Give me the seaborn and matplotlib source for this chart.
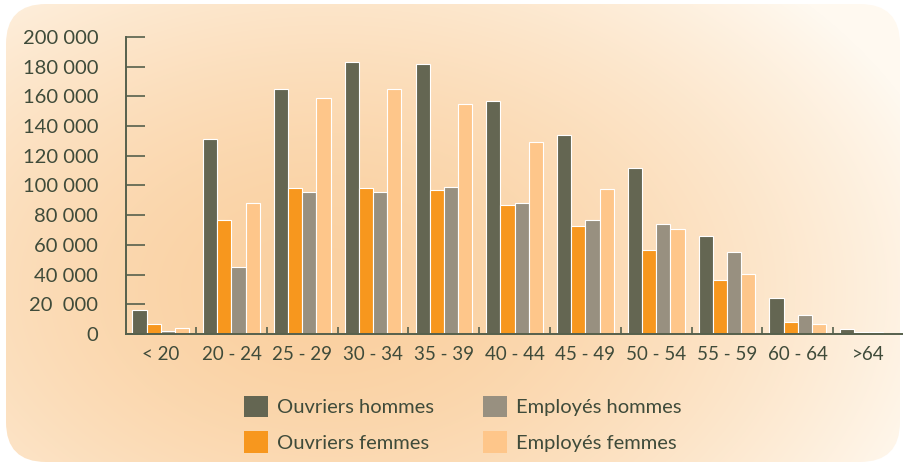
import numpy as np
import pandas as pd
import seaborn as sns
import matplotlib.pyplot as plt
from matplotlib.patches import Patch, FancyBboxPatch
from matplotlib.colors import to_rgb

# Tranches d'âge et effectifs
ages = ["< 20", "20 - 24", "25 - 29", "30 - 34", "35 - 39", "40 - 44",
        "45 - 49", "50 - 54", "55 - 59", "60 - 64", ">64"]
groupes = ["Ouvriers hommes", "Ouvriers femmes", "Employés hommes", "Employés femmes"]
ouvriers_hommes = [16000, 131000, 165000, 183000, 181500, 157000, 134000, 111500, 66000, 24000, 3500]
ouvriers_femmes = [7000, 77000, 98000, 98000, 97000, 87000, 73000, 56500, 36500, 8000, 1500]
employes_hommes = [2000, 45000, 95500, 95500, 99000, 88000, 77000, 74000, 55000, 12800, 1500]
employes_femmes = [4000, 88000, 159000, 165000, 155000, 129000, 97500, 70500, 40500, 6700, 500]
yticks = [0, 20000, 40000, 60000, 80000, 100000, 120000, 140000, 160000, 180000, 200000]
ytick_labels = ["0", "20  000", "40 000", "60 000", "80 000", "100 000",
                "120 000", "140 000", "160 000", "180 000", "200 000"]

couleurs = ["#646652", "#F7971E", "#989080", "#FEC68A"]
texte = "#3F4B3A"

df = pd.DataFrame({
    "age": ages * 4,
    "groupe": [g for g in groupes for _ in ages],
    "n": ouvriers_hommes + ouvriers_femmes + employes_hommes + employes_femmes,
})

fig = plt.figure(figsize=(9.04, 4.66), dpi=100)
fig.patch.set_facecolor("white")

# fond dégradé arrondi
bg = fig.add_axes([0, 0, 1, 1], zorder=-10)
bg.set_axis_off()
W, H = 904, 466
xx, yy = np.meshgrid(np.arange(W), np.arange(H))
d = np.sqrt(((xx - 330) / 640.0) ** 2 + ((yy - 290) / 430.0) ** 2)
d = np.clip(d, 0, 1) ** 1.6
c0 = np.array(to_rgb("#FAD0A0"))
c1 = np.array(to_rgb("#FFF9F0"))
img = c0[None, None, :] * (1 - d[..., None]) + c1[None, None, :] * d[..., None]
im = bg.imshow(img, extent=[0, W, H, 0], aspect="auto")
bg.set_xlim(0, W)
bg.set_ylim(H, 0)
frame = FancyBboxPatch((6, 4), W - 10, H - 8, boxstyle="round,pad=0,rounding_size=40",
                       transform=bg.transData, facecolor="none", edgecolor="none")
bg.add_patch(frame)
im.set_clip_path(frame)

ax = fig.add_axes([126 / W, 1 - 334 / H, (W - 126) / W, (334 - 37) / H])
ax.set_facecolor("none")

sns.barplot(data=df, x="age", y="n", hue="groupe", hue_order=groupes,
            palette=couleurs, saturation=1, ax=ax, width=0.8, edgecolor="white",
            linewidth=0.8, legend=False, errorbar=None)

ax.set_ylim(0, 200000)
ax.set_xlim(-0.49, 10.36)
ax.set_xlabel("")
ax.set_ylabel("")

police = ["Lato", "DejaVu Sans"]
ax.set_yticks(yticks)
ax.set_yticklabels(ytick_labels, family=police, fontsize=14.5, color=texte)
ax.tick_params(axis="y", direction="in", length=14, width=1.2, color="#56604c", pad=20)
ax.set_xticks(range(len(ages)))
ax.set_xticklabels(ages, family=police, fontsize=13.5, color=texte)
ax.tick_params(axis="x", length=0, pad=9)
ax.set_xticks(np.arange(len(ages)) + 0.5, minor=True)
ax.tick_params(axis="x", which="minor", direction="in", length=5, width=1.2, color="#56604c")

for s in ["top", "right"]:
    ax.spines[s].set_visible(False)
ax.spines["left"].set_color("#56604c")
ax.spines["left"].set_linewidth(1.4)
ax.spines["bottom"].set_color("#56604c")
ax.spines["bottom"].set_linewidth(1.4)

handles = [Patch(facecolor=c, edgecolor="none") for c in couleurs]
leg = fig.legend(handles, groupes, ncol=2, loc="upper left",
                 bbox_to_anchor=(244 / W, 1 - 396 / H), frameon=False,
                 prop={"family": police, "size": 14.5}, borderpad=0, borderaxespad=0,
                 handlelength=1.2, handleheight=1.25, handletextpad=0.45,
                 columnspacing=2.4, labelspacing=0.7)
for t in leg.get_texts():
    t.set_color(texte)

fig.savefig("out.png", dpi=100)
